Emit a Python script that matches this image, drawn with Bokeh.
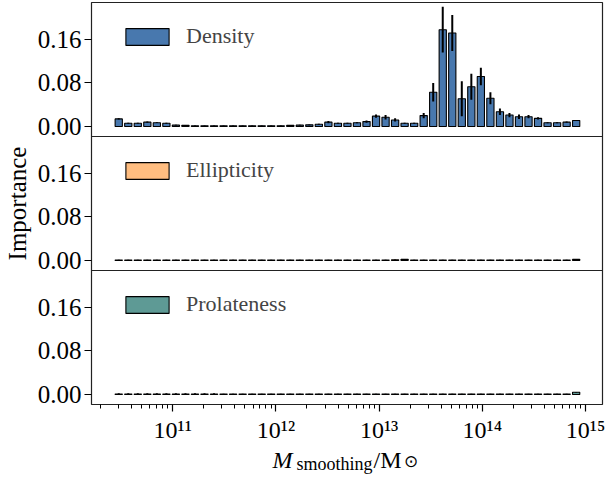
from bokeh.plotting import figure
from bokeh.layouts import column
from bokeh.models import (Range1d, FixedTicker, Legend, LegendItem, Label, Span,
                          ColumnDataSource, CustomJSTickFormatter)
from bokeh.embed import file_html
from bokeh.resources import INLINE

# ---------------- data ----------------
masses = [3.000e10, 3.711e10, 4.590e10, 5.677e10, 7.022e10, 8.686e10, 1.074e11,
          1.329e11, 1.644e11, 2.033e11, 2.515e11, 3.111e11, 3.848e11, 4.760e11,
          5.888e11, 7.283e11, 9.005e11, 1.114e12, 1.378e12, 1.704e12, 2.108e12,
          2.607e12, 3.226e12, 3.990e12, 4.935e12, 6.104e12, 7.551e12, 9.339e12,
          1.155e13, 1.429e13, 1.767e13, 2.186e13, 2.704e13, 3.344e13, 4.137e13,
          5.117e13, 6.329e13, 7.829e13, 9.683e13, 1.198e14, 1.482e14, 1.833e14,
          2.267e14, 2.804e14, 3.468e14, 4.290e14, 5.306e14, 6.563e14, 8.118e14]

density = [0.014, 0.006, 0.006, 0.008, 0.007, 0.006, 0.0025, 0.002, 0.0015, 0.0012,
           0.0012, 0.0012, 0.0012, 0.0012, 0.0012, 0.0012, 0.0013, 0.0015, 0.002, 0.0025,
           0.003, 0.004, 0.008, 0.006, 0.006, 0.007, 0.009, 0.019, 0.017, 0.012,
           0.006, 0.006, 0.020, 0.063, 0.178, 0.172, 0.051, 0.073, 0.092, 0.052,
           0.027, 0.021, 0.018, 0.018, 0.015, 0.007, 0.007, 0.008, 0.011]
density_err = [0.001, 0.0008, 0.0008, 0.001, 0.0008, 0.0008, 0.0005, 0.0005, 0.0005, 0.0005,
               0.0005, 0.0005, 0.0005, 0.0005, 0.0005, 0.0005, 0.0005, 0.0005, 0.0005, 0.0005,
               0.0008, 0.001, 0.002, 0.001, 0.001, 0.001, 0.002, 0.003, 0.004, 0.003,
               0.001, 0.001, 0.005, 0.017, 0.042, 0.033, 0.032, 0.024, 0.016, 0.011,
               0.006, 0.004, 0.004, 0.003, 0.002, 0.001, 0.001, 0.001, 0.001]

ellipticity = [0.0008] * 29 + [0.0015, 0.002] + [0.0008] * 17 + [0.002]
ellipticity_err = [0.0004] * 49

prolateness = [0.0008] * 48 + [0.004]
prolateness_err = [0.0015] * 11 + [0.0005] * 38

panel_names = ["Density", "Ellipticity", "Prolateness"]
panel_values = [density, ellipticity, prolateness]
panel_errors = [density_err, ellipticity_err, prolateness_err]
panel_colors = ["#4878ae", "#ffbd80", "#5e9a95"]

y_ticks = [0.0, 0.08, 0.16]
x_major = [1e11, 1e12, 1e13, 1e14, 1e15]
x_minor = [k * 10.0 ** n for n in range(10, 16) for k in range(2, 10)]

# ---------------- styling / layout ----------------
FONT = "Liberation Serif"
BAR_WIDTH_DEX = 0.07
W = 605
FRAME_H = 402            # three stacked panels, 134 px each
TOP_B, BOTTOM_B, LEFT_B, RIGHT_B = 2, 41, 91, 3
TITLE_H = 32
Y_LO, Y_HI = -0.0184, 0.228       # one panel's y-limits
SPAN = Y_HI - Y_LO                # one panel's y extent
PANEL_PX = FRAME_H / 3

x_range = Range1d(10 ** 10.2132, 10 ** 15.1647)

p = figure(width=W, height=TOP_B + FRAME_H + BOTTOM_B, x_axis_type="log",
           x_range=x_range, y_range=Range1d(Y_LO - 2 * SPAN, Y_HI),
           output_backend="svg", toolbar_location=None,
           min_border_left=LEFT_B, min_border_right=RIGHT_B,
           min_border_top=TOP_B, min_border_bottom=BOTTOM_B)
p.xgrid.visible = False
p.ygrid.visible = False
p.outline_line_color = "#222222"
p.outline_line_width = 1.2
p.background_fill_color = "white"
p.border_fill_color = "white"

# each panel has its own y-range occupying one third of the frame
for k in range(3):
    p.extra_y_ranges[f"panel{k}"] = Range1d(Y_LO - (2 - k) * SPAN, Y_HI + k * SPAN)

f = 10 ** (BAR_WIDTH_DEX / 2)
for k, (vals, errs, color, name) in enumerate(zip(panel_values, panel_errors,
                                                  panel_colors, panel_names)):
    src = ColumnDataSource(dict(
        x=masses,
        left=[m / f for m in masses],
        right=[m * f for m in masses],
        top=vals,
        lo=[v - e for v, e in zip(vals, errs)],
        hi=[v + e for v, e in zip(vals, errs)],
    ))
    r = p.quad(left="left", right="right", bottom=0, top="top", source=src,
               fill_color=color, line_color="black", line_width=1.1,
               y_range_name=f"panel{k}")
    p.segment(x0="x", x1="x", y0="lo", y1="hi", source=src,
              line_color="black", line_width=2, y_range_name=f"panel{k}")
    legend = Legend(items=[LegendItem(label=name, renderers=[r])],
                    location=(29, (2 - k) * PANEL_PX + 87),
                    glyph_width=54, glyph_height=21, label_height=21,
                    label_standoff=12, padding=0, margin=0, spacing=0,
                    border_line_color=None, background_fill_alpha=0,
                    label_text_font=FONT, label_text_font_size="22px",
                    label_text_baseline="middle")
    p.add_layout(legend)

# panel separators
for k in (1, 2):
    p.add_layout(Span(location=Y_LO - (k - 1) * SPAN, dimension="width",
                      line_color="#222222", line_width=1.2))

# left axis: ticks of every panel, labelled with the panel-local value
ya = p.yaxis[0]
ya.ticker = FixedTicker(ticks=[t - k * SPAN for k in range(3) for t in y_ticks],
                        minor_ticks=[])
ya.formatter = CustomJSTickFormatter(args=dict(S=SPAN), code="""
    const k = Math.floor((0.2 - tick) / S);
    let v = tick + k * S;
    if (Math.abs(v) < 1e-6) v = 0;
    return v.toFixed(2);
""")
ya.major_label_text_font = FONT
ya.major_label_text_font_size = "25px"
ya.major_label_text_color = "black"
ya.major_tick_out = 7
ya.major_tick_in = 0
ya.major_tick_line_width = 1.2
ya.major_label_standoff = 3
ya.axis_line_color = None
ya.axis_label = "Importance"
ya.axis_label_text_font = FONT
ya.axis_label_text_font_size = "25px"
ya.axis_label_text_font_style = "normal"
ya.axis_label_text_color = "black"
ya.axis_label_standoff = 4

xa = p.xaxis[0]
xa.ticker = FixedTicker(ticks=x_major, minor_ticks=x_minor)
xa.formatter = CustomJSTickFormatter(code="""
    const sup = {"0":"\u2070","1":"\u00b9","2":"\u00b2","3":"\u00b3","4":"\u2074",
                 "5":"\u2075","6":"\u2076","7":"\u2077","8":"\u2078","9":"\u2079"};
    const e = String(Math.round(Math.log10(tick)));
    return "10" + e.split("").map(c => sup[c]).join("");
""")
xa.major_label_text_font = FONT
xa.major_label_text_font_size = "24px"
xa.major_label_text_color = "black"
xa.major_tick_out = 7
xa.major_tick_in = 0
xa.minor_tick_out = 4
xa.minor_tick_in = 0
xa.major_tick_line_width = 1.2
xa.minor_tick_line_width = 1
xa.major_label_standoff = 5
xa.axis_line_color = None

# x-axis title  M_smoothing / M_sun, drawn as text pieces in a strip below
pt = figure(width=W, height=TITLE_H, x_range=Range1d(0, 1), y_range=Range1d(0, 1),
            output_backend="svg", toolbar_location=None,
            x_axis_location=None, y_axis_location=None, min_border=0)
pt.xgrid.visible = False
pt.ygrid.visible = False
pt.outline_line_color = None
pt.border_fill_color = "white"
title_parts = [("M", 181, 18, "24px", "italic"),
               ("smoothing", 205, 14, "18px", "normal"),
               ("/M", 282, 18, "24px", "normal"),
               ("\u2299", 312, 16, "17px", "normal")]
for txt, sx, sy, size, style in title_parts:
    pt.add_layout(Label(x=sx, y=sy, x_units="screen", y_units="screen",
                        text=txt, text_font=FONT, text_font_size=size,
                        text_font_style=style, text_baseline="alphabetic",
                        text_align="left", text_color="black"))

layout = column(p, pt, spacing=0)

open("out.html", "w").write(file_html(layout, INLINE))
